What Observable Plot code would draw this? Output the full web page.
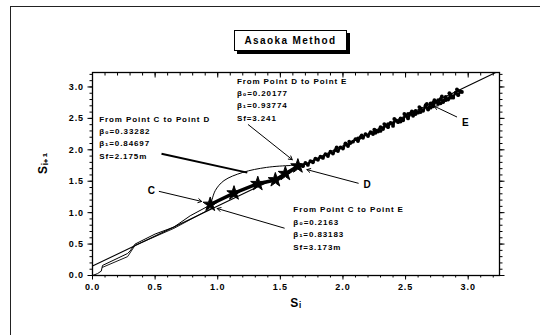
<!DOCTYPE html>
<html>
<head>
<meta charset="utf-8">
<script src="https://cdn.jsdelivr.net/npm/d3@7"></script>
<script src="https://cdn.jsdelivr.net/npm/@observablehq/plot@0.6"></script>
<style>
  html, body { margin: 0; padding: 0; background: #fff; }
  #wrap { position: relative; width: 540px; height: 335px; overflow: hidden; font-family: "Liberation Sans", Arial, sans-serif; }
  #border { position: absolute; left: 10px; top: 6px; width: 540px; height: 340px; border-left: 1px solid #222; border-top: 1px solid #222; box-sizing: border-box; }
  #title { position: absolute; left: 234px; top: 30px; width: 111px; height: 19px; border: 1px solid #000; box-shadow: 3px 3px 0 #000; background: #fff;
           font-weight: bold; font-size: 10px; letter-spacing: 1.4px; text-align: center; line-height: 19px; color: #000; }
  svg { position: absolute; left: 0; top: 0; }
  svg text { letter-spacing: 0.9px; }
</style>
</head>
<body>
<div id="wrap">
  <div id="border"></div>
  <div id="title">Asaoka Method</div>
</div>
<script>
// Axis ticks
const majorTicks = [0, 0.5, 1.0, 1.5, 2.0, 2.5, 3.0];

// Regression line (D to E) drawn across the plot
const fitX = [0, 3.22];
const fitY = [0.15, 3.23];

// Measured settlement trace, origin to C
const traceX = [0, 0.04, 0.07, 0.08, 0.28, 0.30, 0.34, 0.50, 0.65, 0.78, 0.92];
const traceY = [0, 0.03, 0.07, 0.16, 0.35, 0.39, 0.50, 0.66, 0.77, 0.95, 1.10];

// Second (lower) segment near C
const lowX = [0.08, 0.28, 0.34, 0.65, 0.95];
const lowY = [0.13, 0.30, 0.48, 0.75, 1.07];

// Star markers from C to D
const starX = [0.94, 1.13, 1.32, 1.46, 1.54, 1.64];
const starY = [1.13, 1.31, 1.46, 1.52, 1.62, 1.74];

// Arc from C to D
const arcX = [0.95, 0.98, 1.05, 1.20, 1.39, 1.58, 1.64];
const arcY = [1.17, 1.35, 1.51, 1.64, 1.72, 1.75, 1.75];

// Scatter from D to E
const cloudX = [1.66,1.68,1.70,1.72,1.74,1.76,1.78,1.80,1.82,1.84,1.86,1.88,1.90,1.92,1.94,1.96,1.98,2.00,2.02,2.04,2.06,2.08,2.10,2.12,2.14,2.16,2.18,2.20,2.22,2.24,2.26,2.28,2.30,2.32,2.34,2.36,2.38,2.40,2.42,2.44,2.46,2.48,2.50,2.52,2.54,2.56,2.58,2.60,2.62,2.64,2.66,2.68,2.70,2.72,2.74,2.76,2.78,2.80,2.82,2.84,2.86,2.88,2.90,2.92,2.94,
  2.52,2.62,2.72,2.82,2.92,2.46,2.36,2.26,2.56,2.66,2.76,2.86,2.02,2.12,2.22,
  1.95,2.05,2.15,2.25,2.33,2.41,2.49,2.55,2.61,2.67,2.73,2.79,2.85,2.91,2.48,2.58,2.68,2.78,2.88,2.95,2.30,2.40,2.70,2.80];
const cloudY = [1.76,1.74,1.79,1.76,1.82,1.80,1.86,1.84,1.89,1.87,1.93,1.90,1.97,1.94,2.00,1.98,2.04,2.02,2.09,2.06,2.11,2.13,2.17,2.14,2.20,2.19,2.25,2.22,2.28,2.25,2.31,2.29,2.36,2.33,2.39,2.36,2.43,2.41,2.47,2.44,2.50,2.48,2.55,2.50,2.58,2.54,2.62,2.59,2.66,2.62,2.69,2.65,2.74,2.69,2.77,2.73,2.81,2.77,2.84,2.80,2.88,2.84,2.91,2.87,2.93,
  2.57,2.60,2.75,2.79,2.94,2.45,2.41,2.27,2.60,2.71,2.79,2.83,2.10,2.18,2.27,
  2.04,2.13,2.23,2.32,2.41,2.49,2.57,2.61,2.68,2.73,2.79,2.85,2.90,2.96,2.47,2.57,2.64,2.74,2.83,2.92,2.30,2.38,2.67,2.76];

// Annotation texts
const noteText = ["From Point D to Point E","β₀=0.20177","β₁=0.93774","Sf=3.241",
                  "From Point C to Point D","β₀=0.33282","β₁=0.84697","Sf=2.175m",
                  "From Point C to Point E","β₀=0.2163","β₁=0.83183","Sf=3.173m"];
const noteX = [1.153,1.153,1.153,1.153, 0.054,0.054,0.054,0.054, 1.604,1.604,1.604,1.604];
const noteY = [3.095,2.889,2.699,2.493, 2.477,2.287,2.097,1.891, 1.051,0.845,0.655,0.449];

// Point labels
const ptText = ["C","D","E"];
const ptX = [0.473, 2.196, 2.98];
const ptY = [1.352, 1.447, 2.43];

// Arrows
const arrX1 = [1.244, 0.533, 2.122, 2.908, 1.531];
const arrY1 = [2.40, 1.338, 1.468, 2.524, 0.754];
const arrX2 = [1.595, 0.872, 1.712, 2.729, 0.996];
const arrY2 = [1.843, 1.178, 1.685, 2.694, 1.066];

// Connector from "C to D" note to arc
const linkX = [0.551, 1.236];
const linkY = [1.937, 1.637];

const idx = a => a.map((_, i) => i);
const minorX = d3.ticks(0, 3.2, 32);
const minorY = d3.ticks(0, 3.2, 32);
const fontF = "Liberation Sans, Arial, sans-serif";

const chart = Plot.plot({
  width: 540, height: 335,
  marginLeft: 92, marginRight: 41, marginTop: 72, marginBottom: 60,
  x: {domain: [0, 3.25]},
  y: {domain: [0, 3.23]},
  style: {fontFamily: fontF, background: "transparent", color: "#000"},
  marks: [
    Plot.frame({stroke: "#000", strokeWidth: 1.3}),
    Plot.axisX({ticks: minorX, tickSize: 2.5, tickFormat: () => "", label: null}),
    Plot.axisX({ticks: majorTicks, tickSize: 4.5, tickPadding: 4, tickFormat: d => d.toFixed(1), label: null, fontSize: 9, fontWeight: "bold"}),
    Plot.axisY({ticks: minorY, tickSize: 2.5, tickFormat: () => "", label: null}),
    Plot.axisY({ticks: majorTicks, tickSize: 4.5, tickPadding: 4, tickFormat: d => d.toFixed(1), label: null, fontSize: 9, fontWeight: "bold"}),
    Plot.axisX({anchor: "top", ticks: minorX, tickSize: -2.5, tickFormat: () => "", label: null}),
    Plot.axisX({anchor: "top", ticks: majorTicks, tickSize: -4.5, tickFormat: () => "", label: null}),
    Plot.axisY({anchor: "right", ticks: minorY, tickSize: 2.5, tickFormat: () => "", label: null}),
    Plot.axisY({anchor: "right", ticks: majorTicks, tickSize: 4.5, tickFormat: () => "", label: null}),
    Plot.text(["Sᵢ"], {frameAnchor: "bottom", dy: 31, fontSize: 12, fontWeight: "bold"}),
    Plot.text(["Sᵢ₊₁"], {frameAnchor: "left", dx: -49, rotate: -90, fontSize: 12, fontWeight: "bold"}),
    Plot.line(idx(fitX), {x: i => fitX[i], y: i => fitY[i], stroke: "#000", strokeWidth: 1.1}),
    Plot.line(idx(traceX), {x: i => traceX[i], y: i => traceY[i], stroke: "#000", strokeWidth: 1}),
    Plot.line(idx(lowX), {x: i => lowX[i], y: i => lowY[i], stroke: "#000", strokeWidth: 0.9}),
    Plot.line(idx(arcX), {x: i => arcX[i], y: i => arcY[i], stroke: "#000", strokeWidth: 1, curve: "catmull-rom"}),
    Plot.line(idx(starX), {x: i => starX[i], y: i => starY[i], stroke: "#000", strokeWidth: 3.5}),
    Plot.dot(idx(starX), {x: i => starX[i], y: i => starY[i], symbol: "star", r: 4.5, fill: "#000", stroke: "#000", strokeWidth: 1}),
    Plot.line(idx(cloudX).slice(0, 65), {x: i => cloudX[i], y: i => cloudY[i], stroke: "#000", strokeWidth: 2.4}),
    Plot.dot(idx(cloudX), {x: i => cloudX[i], y: i => cloudY[i], r: 1.9, fill: "#000"}),
    Plot.link(idx(linkX).slice(0, 1), {x1: () => linkX[0], y1: () => linkY[0], x2: () => linkX[1], y2: () => linkY[1], stroke: "#000", strokeWidth: 2}),
    Plot.arrow(idx(arrX1), {x1: i => arrX1[i], y1: i => arrY1[i], x2: i => arrX2[i], y2: i => arrY2[i], stroke: "#000", strokeWidth: 1, headLength: 6, bend: false}),
    Plot.text(idx(noteText), {x: i => noteX[i], y: i => noteY[i], text: i => noteText[i], textAnchor: "start", fontSize: 8, fontWeight: "bold", fill: "#000"}),
    Plot.text(idx(ptText), {x: i => ptX[i], y: i => ptY[i], text: i => ptText[i], fontSize: 10, fontWeight: "bold", fill: "#000"})
  ]
});
document.getElementById("wrap").prepend(chart);
</script>
</body>
</html>
